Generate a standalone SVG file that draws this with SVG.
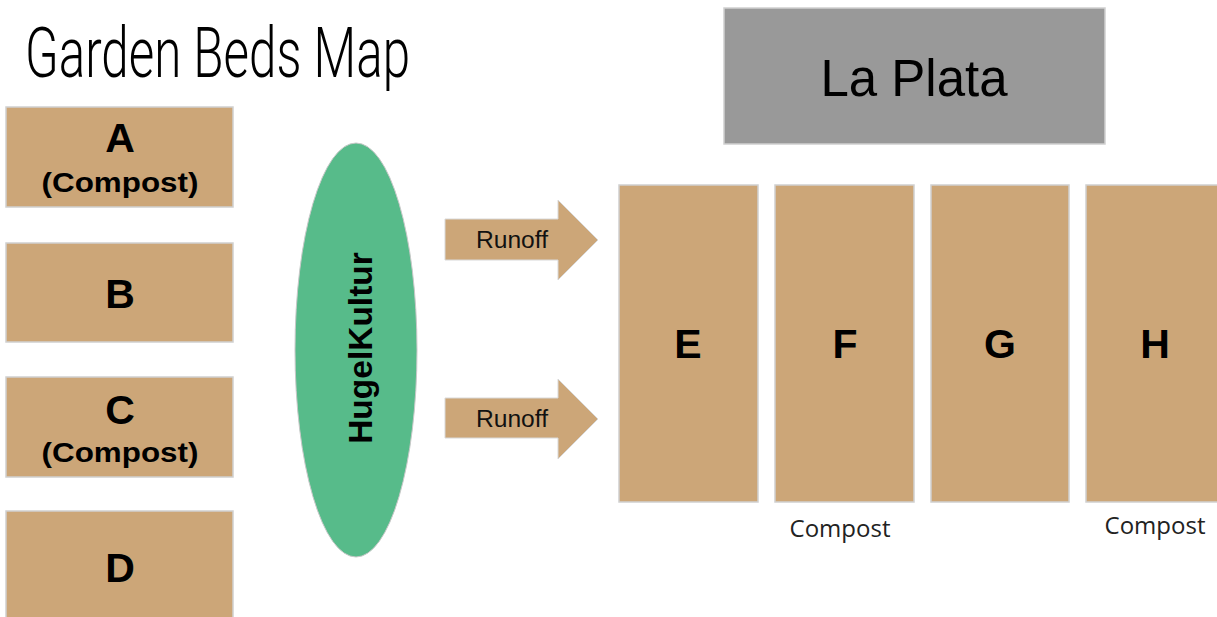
<svg xmlns="http://www.w3.org/2000/svg" width="1217" height="617" viewBox="0 0 1217 617">
<style>
.bed{fill:#cca678;stroke:#d0d0d0;stroke-width:1.5}
.lbl{font-family:"Liberation Sans",Arial,sans-serif;font-weight:bold;fill:#000;text-anchor:middle}
.big{font-size:41px}
.sub{font-size:28px}
.note{font-family:"Open Sans","Noto Sans",sans-serif;font-size:24px;fill:#222;text-anchor:middle}
.arrow{fill:#cca678;stroke:#d8d8d8;stroke-width:1}
.run{font-family:"Liberation Sans",Arial,sans-serif;font-size:23px;fill:#111;text-anchor:middle}
</style>
<rect width="1217" height="617" fill="#fff"/>
<text id="title" x="25" y="77" font-family="Roboto,sans-serif" font-weight="300" font-size="70" textLength="385" lengthAdjust="spacingAndGlyphs" fill="#000">Garden Beds Map</text>
<g id="laplata">
<rect x="724" y="8" width="381" height="136" fill="#999999" stroke="#d0d0d0" stroke-width="1.5"/>
<text x="914" y="96" font-family="Liberation Sans,Arial,sans-serif" font-size="51" text-anchor="middle" fill="#000">La Plata</text>
</g>
<g id="bedA"><rect class="bed" x="6" y="107" width="227" height="100"/><text class="lbl big" x="120" y="152">A</text><text class="lbl sub" x="120" y="192" textLength="157" lengthAdjust="spacingAndGlyphs">(Compost)</text></g>
<g id="bedB"><rect class="bed" x="6" y="243" width="227" height="99"/><text class="lbl big" x="120" y="308">B</text></g>
<g id="bedC"><rect class="bed" x="6" y="377" width="227" height="100"/><text class="lbl big" x="120" y="424">C</text><text class="lbl sub" x="120" y="462" textLength="157" lengthAdjust="spacingAndGlyphs">(Compost)</text></g>
<g id="bedD"><rect class="bed" x="6" y="511" width="227" height="110"/><text class="lbl big" x="120" y="582">D</text></g>
<g id="hugel">
<ellipse cx="356" cy="350" rx="61" ry="207" fill="#57bb8a" stroke="#c8c8c8" stroke-width="1"/>
<text class="lbl" font-size="33.5" transform="translate(372,348) rotate(-90)" x="0" y="0">HugelKultur</text>
</g>
<g id="connectors">
<path class="arrow" d="M445,219 H558 V200 L598,240 L558,280 V260 H445 Z"/>
<text class="run" x="512" y="248" textLength="72" lengthAdjust="spacingAndGlyphs">Runoff</text>
<path class="arrow" d="M445,398 H558 V379 L598,419 L558,459 V438 H445 Z"/>
<text class="run" x="512" y="427" textLength="72" lengthAdjust="spacingAndGlyphs">Runoff</text>
</g>
<g id="bedE"><rect class="bed" x="619" y="185" width="139" height="317"/><text class="lbl big" x="688" y="358">E</text></g>
<g id="bedF"><rect class="bed" x="775" y="185" width="139" height="317"/><text class="lbl big" x="845" y="358">F</text><text class="note" x="840" y="537">Compost</text></g>
<g id="bedG"><rect class="bed" x="931" y="185" width="138" height="317"/><text class="lbl big" x="1000" y="358">G</text></g>
<g id="bedH"><rect class="bed" x="1086" y="185" width="139" height="317"/><text class="lbl big" x="1155" y="358">H</text><text class="note" x="1155" y="534">Compost</text></g>
</svg>
